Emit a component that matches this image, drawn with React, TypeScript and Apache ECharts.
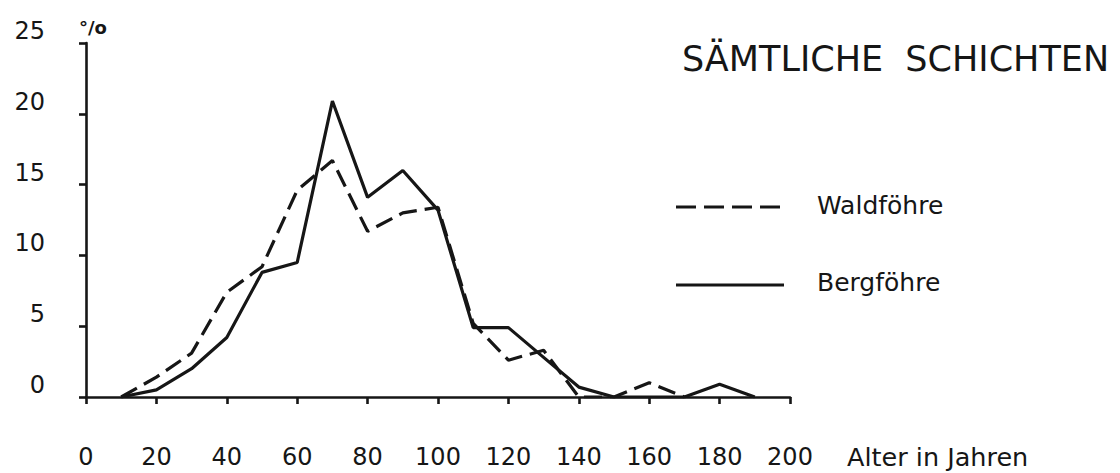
import React, { useEffect, useRef } from "react";
import * as echarts from "echarts";

const ages = [10, 20, 30, 40, 50, 60, 70, 80, 90, 100, 110, 120, 130, 140, 150, 160, 170, 180, 190];
const bergfoehre = [0, 0.5, 2.0, 4.2, 8.8, 9.5, 20.9, 14.1, 16.0, 13.2, 4.9, 4.9, 2.8, 0.7, 0, 0, 0, 0.9, 0];
const waldfoehre = [0, 1.4, 3.1, 7.4, 9.2, 14.6, 16.7, 11.7, 13.0, 13.4, 5.2, 2.6, 3.3, 0, 0, 1.0, 0];
const seriesNames = ["Waldföhre", "Bergföhre"];
const titleText = "SÄMTLICHE  SCHICHTEN";
const xAxisTitle = "Alter in Jahren";
const yUnit = "°/o";

const INK = "#161616";
const FONT = "DejaVu Sans";
const DASH = [18, 8];

export default function App() {
  const ref = useRef<HTMLDivElement>(null);
  useEffect(() => {
    if (!ref.current) return;
    const chart = echarts.init(ref.current, null, { renderer: "svg" });
    const pairs = (vals: number[]) => vals.map((v, i) => [ages[i], v]);
    chart.setOption({
      animation: false,
      backgroundColor: "#ffffff",
      title: {
        text: titleText,
        left: 677,
        top: 36,
        textStyle: { fontFamily: FONT, fontSize: 35, fontWeight: "normal", color: INK },
      },
      legend: { show: false },
      grid: { left: 86, right: 330, top: 43, bottom: 76, containLabel: false },
      xAxis: {
        type: "value",
        min: 0,
        max: 200,
        interval: 20,
        splitLine: { show: false },
        axisLine: { lineStyle: { color: INK, width: 2.6 } },
        axisTick: { show: true, length: 7, lineStyle: { color: INK, width: 2.6 } },
        axisLabel: { margin: 48, fontFamily: FONT, fontSize: 24, color: INK },
      },
      yAxis: {
        type: "value",
        min: 0,
        max: 25,
        interval: 5,
        splitLine: { show: false },
        axisLine: { show: true, lineStyle: { color: INK, width: 2.6 } },
        axisTick: { show: true, length: 7, lineStyle: { color: INK, width: 2.6 } },
        axisLabel: { margin: 41, fontFamily: FONT, fontSize: 24, color: INK, verticalAlign: "bottom" },
      },
      graphic: [
        {
          type: "text",
          x: 847,
          y: 457,
          style: { text: xAxisTitle, fontFamily: FONT, fontSize: 25.5, fill: INK, verticalAlign: "middle" },
        },
        {
          type: "text",
          x: 93,
          y: 27,
          style: { text: yUnit, fontFamily: FONT, fontSize: 18, fontWeight: "bold", fill: INK, align: "center", verticalAlign: "middle" },
        },
        {
          type: "line",
          shape: { x1: 676, y1: 207, x2: 782, y2: 207 },
          style: { stroke: INK, lineWidth: 3, lineDash: [20, 8] },
        },
        {
          type: "text",
          x: 817,
          y: 205,
          style: { text: seriesNames[0], fontFamily: FONT, fontSize: 25, fill: INK, verticalAlign: "middle" },
        },
        {
          type: "line",
          shape: { x1: 676, y1: 285, x2: 784, y2: 285 },
          style: { stroke: INK, lineWidth: 3 },
        },
        {
          type: "text",
          x: 817,
          y: 282,
          style: { text: seriesNames[1], fontFamily: FONT, fontSize: 25, fill: INK, verticalAlign: "middle" },
        },
      ],
      series: [
        {
          name: seriesNames[0],
          type: "line",
          data: pairs(waldfoehre),
          symbol: "none",
          lineStyle: { color: INK, width: 3.2, type: DASH },
        },
        {
          name: seriesNames[1],
          type: "line",
          data: pairs(bergfoehre),
          symbol: "none",
          lineStyle: { color: INK, width: 3.2, type: "solid" },
        },
      ],
    });
    return () => chart.dispose();
  }, []);
  return (
    <div
      ref={ref}
      style={{ position: "fixed", left: 0, top: 0, width: 1120, height: 473, background: "#fff" }}
    />
  );
}
